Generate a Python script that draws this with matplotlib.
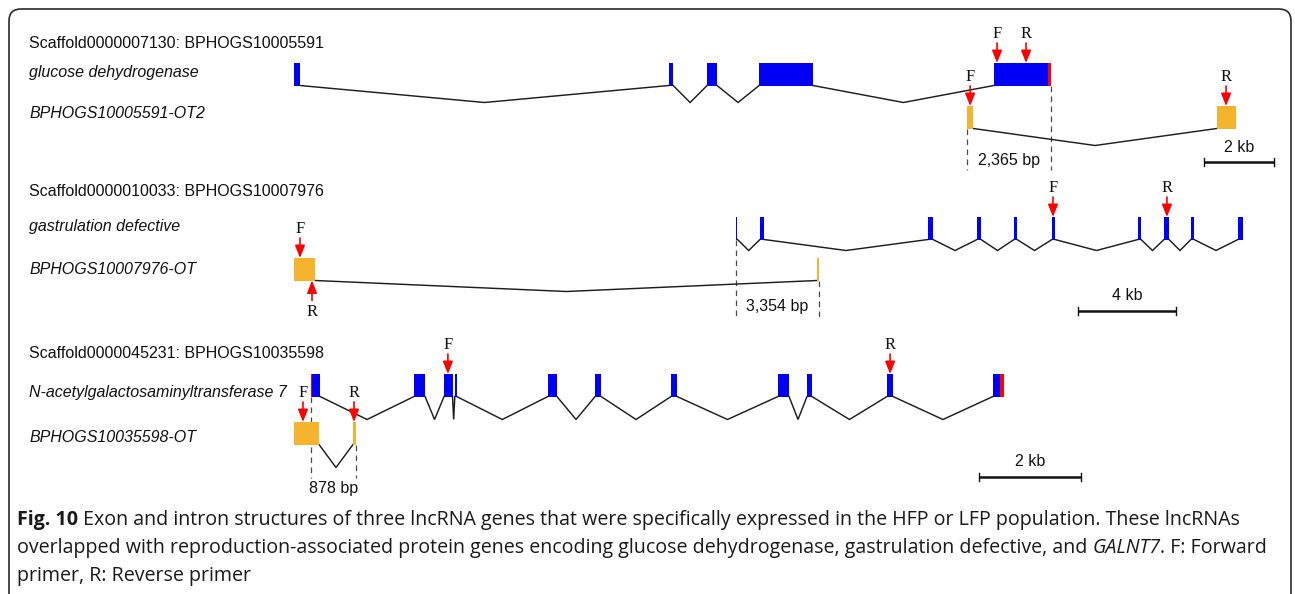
"""Exon/intron structures of three lncRNAs and their overlapping protein-coding genes."""

import matplotlib

matplotlib.use("Agg")

import matplotlib.pyplot as plt
from matplotlib.patches import FancyBboxPatch, Rectangle

# exon intervals in bp, measured from the left edge of each panel
GDH_EXONS = [(0, 170), (10590, 10710), (11670, 11950), (13140, 14660), (19770, 21300)]
GDH_UTR = [(21300, 21380)]
OT2_EXONS = [(19015, 19190), (26070, 26610)]
GDH_PRIMERS = [("F", 19860), ("R", 20680)]
OT2_PRIMERS = [("F", 19100), ("R", 26330)]

GD_EXONS = [(18060, 18100), (19020, 19185), (25880, 26080), (27880, 28040),
            (29390, 29510), (30940, 31060), (34450, 34570), (35510, 35715),
            (36610, 36735), (38530, 38735)]
GD_UTR = []
OT_EXONS = [(0, 860), (21360, 21414)]
GD_PRIMERS = [("F", 30980), ("R", 35630)]
OT_PRIMERS = [("F", 245), ("R", 735)]

GALNT7_EXONS = [(351, 507), (2340, 2555), (2925, 3090), (3135, 3170), (4950, 5125),
                (5870, 5985), (7350, 7465), (9435, 9650), (10000, 10095),
                (11560, 11675), (13625, 13760)]
GALNT7_UTR = [(330, 351), (13760, 13840)]
OT3_EXONS = [(0, 487), (1150, 1208)]
GALNT7_PRIMERS = [("F", 3000), ("R", 11620)]
OT3_PRIMERS = [("F", 175), ("R", 1170)]

TITLES = ["Scaffold0000007130: BPHOGS10005591",
          "Scaffold0000010033: BPHOGS10007976",
          "Scaffold0000045231: BPHOGS10035598"]
GENE_NAMES = ["glucose dehydrogenase", "gastrulation defective",
              "N-acetylgalactosaminyltransferase 7"]
LNC_NAMES = ["BPHOGS10005591-OT2", "BPHOGS10007976-OT", "BPHOGS10035598-OT"]
SCALE_KB = [2, 4, 2]

CAPTION = [
    [("Fig. 10", "bold", "normal"),
     (" Exon and intron structures of three lncRNA genes that were specifically "
      "expressed in the HFP or LFP population. These lncRNAs", "normal", "normal")],
    [("overlapped with reproduction-associated protein genes encoding glucose "
      "dehydrogenase, gastrulation defective, and ", "normal", "normal"),
     ("GALNT7", "normal", "italic"),
     (". F: Forward", "normal", "normal")],
    [("primer, R: Reverse primer", "normal", "normal")],
]

BLUE = "#0000f5"
ORANGE = "#f6b42e"
RED = "#ff0000"
LINE = "#1e1e1e"
SANS = "Liberation Sans"
SERIF = "Liberation Serif"

panels = [
    dict(gene=(GDH_EXONS, GDH_UTR, GDH_PRIMERS), lnc=(OT2_EXONS, OT2_PRIMERS),
         dashes=[(OT2_EXONS[0][0], "lnc"), (GDH_UTR[-1][1], "gene")],
         ppb=0.0354, title_y=43, gene_y=72, lnc_y=113, gene_top=63, lnc_top=106,
         dip=17, dash_bottom=170, bp_y=161, bar_x=1239, bar_y=162, lnc_up=()),
    dict(gene=(GD_EXONS, GD_UTR, GD_PRIMERS), lnc=(OT_EXONS, OT_PRIMERS),
         dashes=[(GD_EXONS[0][0], "gene"), (OT_EXONS[-1][1], "lnc")],
         ppb=0.0245, title_y=192, gene_y=227, lnc_y=270, gene_top=217, lnc_top=258,
         dip=11, dash_bottom=320, bp_y=307, bar_x=1127, bar_y=311, lnc_up=("R",)),
    dict(gene=(GALNT7_EXONS, GALNT7_UTR, GALNT7_PRIMERS), lnc=(OT3_EXONS, OT3_PRIMERS),
         dashes=[(GALNT7_UTR[0][0], "gene"), (OT3_EXONS[-1][1], "lnc")],
         ppb=0.0513, title_y=353, gene_y=392, lnc_y=437, gene_top=374, lnc_top=422,
         dip=23, dash_bottom=478, bp_y=489, bar_x=1030, bar_y=477, lnc_up=()),
]

X0 = 294
EXON_H = 22.5
LABEL_X = 29

fig = plt.figure(figsize=(12.95, 5.94), dpi=100)
ax = fig.add_axes([0, 0, 1, 1])
ax.set_xlim(0, 1295)
ax.set_ylim(594, 0)
ax.axis("off")

ax.add_patch(FancyBboxPatch((9, 9), 1282, 640, boxstyle="round,pad=0,rounding_size=12",
                            facecolor="none", edgecolor="#2a2a2a", linewidth=1.2))


def merged(intervals):
    out = []
    for a, b in sorted(intervals):
        if out and a <= out[-1][1]:
            out[-1][1] = max(out[-1][1], b)
        else:
            out.append([a, b])
    return out


def draw_track(p, exons, utr, top, color, primers, up=()):
    px = lambda bp: X0 + bp * p["ppb"]
    bottom = top + EXON_H
    blocks = merged(list(exons) + list(utr))
    for (a0, a1), (b0, b1) in zip(blocks[:-1], blocks[1:]):
        xs = [px(a1), (px(a1) + px(b0)) / 2, px(b0)]
        ax.plot(xs, [bottom, bottom + p["dip"], bottom], color=LINE, lw=1.05,
                solid_joinstyle="miter", zorder=2)
    for a, b in exons:
        ax.add_patch(Rectangle((px(a), top), px(b) - px(a), EXON_H,
                               facecolor=color, edgecolor="none", zorder=3))
    for a, b in utr:
        ax.add_patch(Rectangle((px(a), top), px(b) - px(a), EXON_H,
                               facecolor=RED, edgecolor="none", zorder=3))
    for name, bp in primers:
        x = px(bp)
        if name in up:
            tip, tail, ty = bottom, bottom + 20, bottom + 32
        else:
            tip, tail, ty = top, top - 20, top - 29
        ax.annotate("", xy=(x, tip), xytext=(x, tail),
                    arrowprops=dict(arrowstyle="-|>,head_length=0.75,head_width=0.3",
                                    color=RED, lw=1.2, mutation_scale=10,
                                    shrinkA=0, shrinkB=0),
                    zorder=5)
        ax.text(x, ty, name, family=SERIF, fontsize=12, ha="center", va="center",
                color="#111111", zorder=5)


for i, p in enumerate(panels):
    ax.text(LABEL_X, p["title_y"], TITLES[i], family=SANS, fontsize=11.5,
            va="center", color="#111111")
    ax.text(LABEL_X, p["gene_y"], GENE_NAMES[i], family=SANS, fontsize=11.5,
            style="italic", va="center", color="#111111")
    ax.text(LABEL_X, p["lnc_y"], LNC_NAMES[i], family=SANS, fontsize=11.5,
            style="italic", va="center", color="#111111")

    exons, utr, primers = p["gene"]
    draw_track(p, exons, utr, p["gene_top"], BLUE, primers)
    lexons, lprimers = p["lnc"]
    draw_track(p, lexons, [], p["lnc_top"], ORANGE, lprimers, up=p["lnc_up"])

    # overlap between the lncRNA and the protein-coding gene
    xs = []
    for bp, track in p["dashes"]:
        x = X0 + bp * p["ppb"]
        top = p["gene_top"] if track == "gene" else p["lnc_top"]
        ax.plot([x, x], [top + EXON_H, p["dash_bottom"]], color="#4a4a4a", lw=0.9,
                dashes=(4.5, 3.5), zorder=1)
        xs.append(x)
    overlap = p["dashes"][1][0] - p["dashes"][0][0]
    ax.text(sum(xs) / 2, p["bp_y"], f"{overlap:,} bp", family=SANS, fontsize=11.5,
            ha="center", va="center", color="#111111")

    # scale bar
    half = SCALE_KB[i] * 1000 * p["ppb"] / 2
    bx0, bx1, by = p["bar_x"] - half, p["bar_x"] + half, p["bar_y"]
    ax.plot([bx0, bx1], [by, by], color="#111111", lw=1.8, solid_capstyle="butt")
    for bx in (bx0, bx1):
        ax.plot([bx, bx], [by - 4, by + 4], color="#111111", lw=1.0)
    ax.text(p["bar_x"], by - 15, f"{SCALE_KB[i]} kb", family=SANS, fontsize=11.5,
            ha="center", va="center", color="#111111")

# figure caption
for row, y in zip(CAPTION, (525, 553, 581)):
    prev = None
    for text, weight, style in row:
        kw = dict(family="Open Sans", fontsize=14.1, fontweight=weight, style=style,
                  color="#1a1a1a", va="baseline", ha="left")
        if prev is None:
            prev = ax.text(17, y, text, **kw)
        else:
            prev = ax.annotate(text, xy=(1, y), xycoords=(prev, "data"), **kw)

fig.savefig("out.png", dpi=100)
